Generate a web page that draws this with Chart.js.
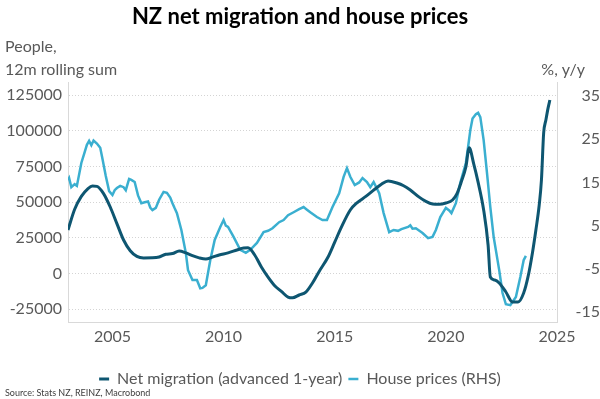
<!DOCTYPE html>
<html><head><meta charset="utf-8">
<script src="https://cdn.jsdelivr.net/npm/chart.js@4/dist/chart.umd.min.js"></script>
<style>html,body{margin:0;padding:0;background:#fff}#wrap{width:600px;height:399px;position:relative}</style>
</head><body><div id="wrap"><canvas id="c" width="600" height="399"></canvas></div>
<script>
const migYears = [2003.0,2003.3,2003.6,2003.9,2004.1,2004.3,2004.6,2004.9,2005.2,2005.5,2005.8,2006.1,2006.4,2006.8,2007.1,2007.4,2007.7,2008.0,2008.3,2008.6,2008.9,2009.2,2009.5,2009.8,2010.2,2010.6,2010.9,2011.1,2011.4,2011.7,2012.0,2012.3,2012.6,2012.9,2013.1,2013.4,2013.7,2014.0,2014.3,2014.7,2015.0,2015.3,2015.7,2016.0,2016.4,2016.8,2017.1,2017.4,2017.8,2018.1,2018.4,2018.8,2019.1,2019.4,2019.7,2020.0,2020.3,2020.5,2020.7,2020.9,2021.05,2021.25,2021.45,2021.7,2021.9,2022.0,2022.2,2022.4,2022.7,2023.0,2023.25,2023.5,2023.7,2023.9,2024.05,2024.2,2024.3,2024.4,2024.5,2024.6,2024.68];
const migValues = [30500,45000,54000,59500,61300,61000,56000,46600,35000,23500,16000,12000,10900,11000,11600,13500,14000,15800,14500,12500,11000,10200,11500,13000,14500,16500,17900,18000,13000,4600,-2500,-8500,-12500,-16500,-17000,-15000,-13000,-6600,1500,11600,22000,32500,44500,49500,54000,59000,62500,64800,63400,61500,58500,53500,50500,48700,48500,49400,51500,56000,64500,74600,88000,77000,64000,44500,20000,-2400,-4500,-6600,-12900,-19900,-19900,-13600,-2000,15000,30500,48000,65500,98400,107500,116000,121500];
const hpYears = [2003.0,2003.05,2003.15,2003.3,2003.4,2003.6,2003.75,2003.85,2003.95,2004.05,2004.15,2004.3,2004.45,2004.55,2004.7,2004.85,2005.0,2005.1,2005.2,2005.35,2005.5,2005.6,2005.75,2005.85,2006.0,2006.15,2006.3,2006.45,2006.6,2006.7,2006.8,2006.95,2007.1,2007.3,2007.45,2007.6,2007.7,2007.8,2007.9,2008.1,2008.3,2008.4,2008.6,2008.8,2008.95,2009.05,2009.2,2009.4,2009.6,2009.85,2010.0,2010.1,2010.2,2010.45,2010.75,2011.0,2011.2,2011.5,2011.8,2012.0,2012.2,2012.5,2012.7,2012.9,2013.15,2013.4,2013.6,2013.75,2013.9,2014.2,2014.45,2014.65,2014.9,2015.2,2015.4,2015.55,2015.7,2015.9,2016.1,2016.25,2016.45,2016.6,2016.75,2017.0,2017.2,2017.45,2017.65,2017.85,2018.0,2018.3,2018.4,2018.5,2018.65,2018.95,2019.2,2019.4,2019.55,2019.75,2020.0,2020.15,2020.25,2020.45,2020.65,2020.9,2021.0,2021.1,2021.2,2021.35,2021.45,2021.55,2021.7,2021.85,2022.0,2022.15,2022.4,2022.55,2022.7,2022.9,2023.15,2023.35,2023.5,2023.6];
const hpValues = [15.5,16.0,13.9,14.6,14.2,19.5,22.0,23.7,24.6,23.6,24.7,24.0,23.0,20.5,16.5,13.0,12.1,13.2,13.7,14.2,13.9,13.2,15.8,15.6,15.1,12.0,10.2,10.4,10.6,9.2,8.6,9.1,11.0,12.8,12.6,11.5,10.2,9.0,7.9,4.0,-1.3,-5.3,-7.6,-7.6,-9.5,-9.4,-8.8,-3.0,1.7,4.7,6.3,5.0,4.7,2.4,-0.6,-1.3,-0.6,1.0,3.5,3.8,4.4,5.8,6.3,7.4,8.1,8.8,9.3,8.7,8.1,7.0,6.3,6.3,9.3,12.5,16.3,18.3,16.3,14.4,15.0,16.0,15.1,13.9,15.1,12.5,7.9,3.5,4.0,3.8,4.2,4.7,5.1,4.3,4.4,3.3,2.1,2.4,4.0,7.0,9.1,8.5,7.9,10.2,14.9,19.5,23.2,27.1,29.8,30.8,31.1,30.1,24.8,17.2,9.3,2.4,-5.3,-10.6,-13.2,-13.4,-11.5,-6.9,-3.0,-2.0];
const xTicks = [2005,2010,2015,2020,2025];
const leftTicks = [-25000,0,25000,50000,75000,100000,125000];
const rightTicks = [-15,-5,5,15,25,35];
const seriesNames = ['Net migration (advanced 1-year)','House prices (RHS)'];
const titleText = 'NZ net migration and house prices';
const leftUnit = ['People,','12m rolling sum'];
const rightUnit = '%, y/y';
const sourceText = 'Source: Stats NZ, REINZ, Macrobond';

const FONT = 'Lato, Carlito, "Open Sans", sans-serif';
const GREY = '#595959';

const textPlugin = {
  id: 'extraText',
  afterDraw(chart) {
    const ctx = chart.ctx;
    ctx.save();
    ctx.fillStyle = GREY;
    ctx.font = '16px ' + FONT;
    ctx.textBaseline = 'middle';
    ctx.textAlign = 'left';
    ctx.fillText(leftUnit[0], 5, 47);
    ctx.fillText(leftUnit[1], 5, 70);
    ctx.textAlign = 'right';
    ctx.fillText(rightUnit, 585, 70);
    ctx.font = '9px ' + FONT;
    ctx.textAlign = 'left';
    ctx.fillStyle = '#404040';
    ctx.fillText(sourceText, 5, 393);
    ctx.restore();
  }
};

new Chart(document.getElementById('c'), {
  type: 'line',
  data: {
    datasets: [
      {label: seriesNames[0], data: migYears.map((x,i)=>({x, y: migValues[i]})), yAxisID: 'y',
       borderColor: '#0e5671', backgroundColor: '#0e5671', borderWidth: 3, pointRadius: 0,
       cubicInterpolationMode: 'monotone'},
      {label: seriesNames[1], data: hpYears.map((x,i)=>({x, y: hpValues[i]})), yAxisID: 'y1',
       borderColor: '#3aafd0', backgroundColor: '#3aafd0', borderWidth: 2.5, pointRadius: 0, tension: 0}
    ]
  },
  options: {
    responsive: false, animation: false, devicePixelRatio: 1,
    layout: {padding: {left: 0, right: 0, top: 0, bottom: 2}},
    plugins: {
      title: {display: true, text: titleText, color: '#000', font: {family: FONT, size: 22, weight: 'bold'},
              padding: {top: 4, bottom: 51.6}},
      legend: {position: 'bottom', labels: {usePointStyle: true, pointStyle: 'line', pointStyleWidth: 10,
               color: GREY, font: {family: FONT, size: 16}, padding: 6}},
      tooltip: {enabled: false}
    },
    scales: {
      x: {type: 'linear', min: 2003, max: 2025,
          afterBuildTicks: s => { s.ticks = xTicks.map(v=>({value: v})); },
          afterFit: s => { s.height = 43; },
          ticks: {color: GREY, font: {family: FONT, size: 16}, padding: 5, maxRotation: 0, callback: v => String(v)},
          grid: {display: false, drawTicks: false},
          border: {display: true, color: '#d9d9d9'}},
      y: {position: 'left', min: -33900, max: 134100,
          afterBuildTicks: s => { s.ticks = leftTicks.map(v=>({value: v})); },
          afterFit: s => { s.width = 68; },
          ticks: {color: GREY, font: {family: FONT, size: 16}, padding: 6, callback: v => String(v)},
          grid: {color: '#d4d4d4', drawTicks: false, lineWidth: 1},
          border: {display: true, color: '#d9d9d9', dash: [1,2]}},
      y1: {position: 'right', min: -17.3, max: 38.24,
          afterBuildTicks: s => { s.ticks = rightTicks.map(v=>({value: v})); },
          afterFit: s => { s.width = 43; },
          ticks: {color: GREY, font: {family: FONT, size: 16}, padding: 5, crossAlign: 'far', callback: v => String(v)},
          grid: {drawOnChartArea: false, drawTicks: false},
          border: {display: true, color: '#d9d9d9'}}
    }
  },
  plugins: [textPlugin]
});
</script></body></html>
